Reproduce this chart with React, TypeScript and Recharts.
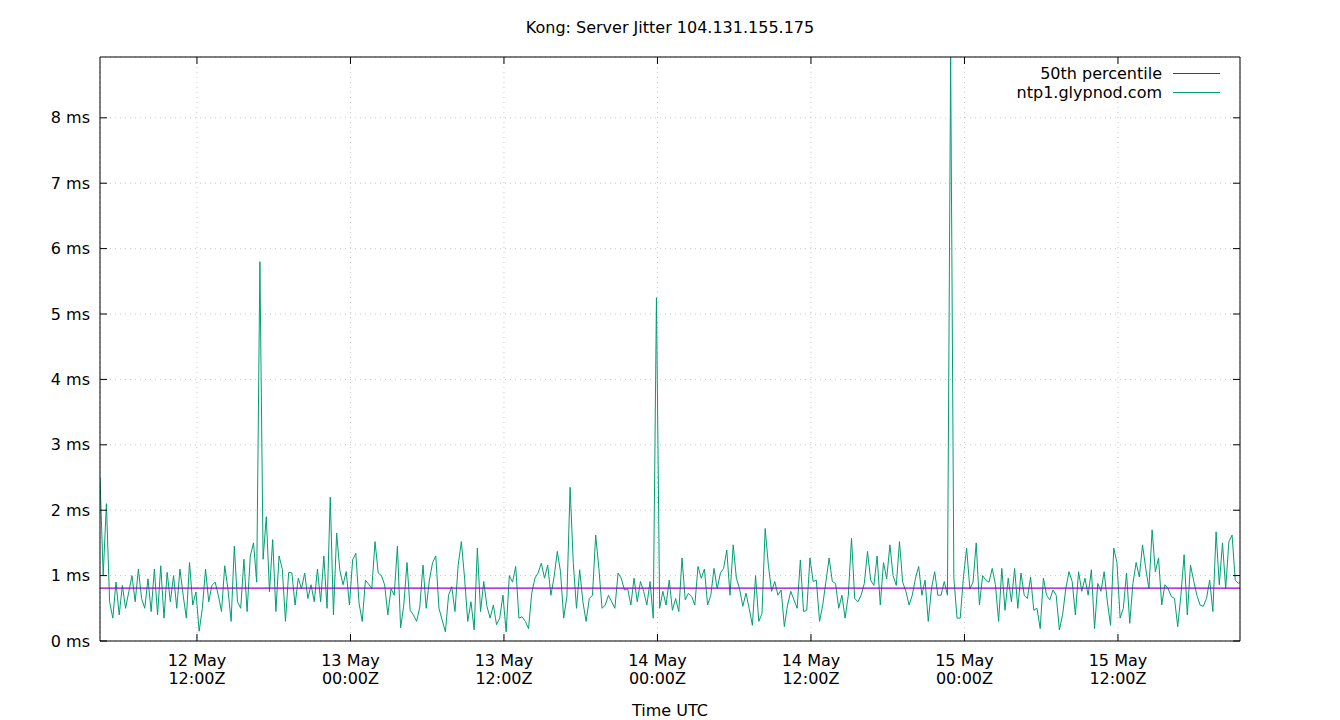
import { LineChart, Line, XAxis, YAxis, CartesianGrid } from 'recharts'

// hours since 12 May 00:00Z
const START_H = 4.42
const END_H = 93.54
const STEP_H = 0.25

const X_TICKS = [12, 24, 36, 48, 60, 72, 84]
const X_TICK_DAYS = ['12 May', '13 May', '13 May', '14 May', '14 May', '15 May', '15 May']
const X_TICK_TIMES = ['12:00Z', '00:00Z', '12:00Z', '00:00Z', '12:00Z', '00:00Z', '12:00Z']
const Y_TICKS = [0, 1, 2, 3, 4, 5, 6, 7, 8]
const Y_MAX = 8.93

const MEDIAN_MS = 0.81

// ntp1.glypnod.com jitter, ms, one sample every 15 min
const jitterMs = [
  2.5, 1.0, 2.1, 0.6, 0.35, 0.9, 0.4, 0.85, 0.5, 0.75,
  1.0, 0.6, 1.1, 0.65, 0.5, 0.95, 0.45, 1.1, 0.4, 1.15,
  0.35, 1.05, 0.6, 1.0, 0.5, 1.1, 0.7, 0.35, 1.2, 0.55,
  0.75, 0.15, 0.5, 1.1, 0.6, 0.85, 0.9, 0.7, 0.45, 1.15,
  0.8, 0.3, 1.45, 0.6, 0.5, 1.25, 0.45, 1.3, 1.5, 0.9,
  5.8, 1.25, 1.9, 0.75, 1.55, 0.45, 1.3, 1.1, 0.3, 1.05,
  1.04, 0.55, 0.96, 0.8, 1.04, 0.65, 0.86, 0.6, 1.1, 0.6,
  1.3, 0.5, 2.2, 0.4, 1.65, 1.08, 0.86, 1.06, 0.55, 1.24,
  1.34, 0.58, 0.3, 0.93, 0.87, 0.8, 1.52, 1.04, 1.0, 0.86,
  0.4, 0.8, 0.7, 1.45, 0.2, 0.55, 1.2, 0.47, 0.4, 0.3,
  0.52, 1.16, 0.5, 0.93, 1.2, 1.3, 0.5, 0.32, 0.14, 0.7,
  0.83, 0.45, 1.16, 1.52, 0.96, 0.3, 0.6, 0.17, 1.42, 0.45,
  0.91, 0.53, 0.35, 0.55, 0.25, 0.35, 0.7, 0.14, 1.0, 0.9,
  1.14, 0.35, 0.37, 0.3, 0.19, 0.73, 0.96, 1.04, 1.19, 0.96,
  1.16, 0.7, 0.98, 1.37, 1.06, 0.35, 0.68, 2.35, 1.19, 0.5,
  1.09, 0.6, 0.3, 0.65, 0.7, 1.62, 1.11, 0.5, 0.55, 0.7,
  0.6, 0.5, 1.04, 0.96, 0.78, 0.8, 0.55, 0.96, 0.6, 0.91,
  0.76, 0.55, 0.91, 0.35, 5.25, 0.5, 0.76, 0.55, 0.93,
  0.47, 0.65, 0.45, 1.27, 0.63, 0.73, 0.68, 0.55, 1.14, 0.96,
  1.1, 0.55, 0.7, 1.11, 0.8, 1.04, 1.11, 1.39, 0.7, 1.47,
  0.96, 0.8, 0.53, 0.73, 0.5, 0.24, 1.0, 0.3, 0.42, 1.72,
  1.16, 0.76, 0.91, 0.7, 0.78, 0.22, 0.55, 0.76, 0.63, 0.5,
  1.24, 0.45, 0.47, 1.27, 0.91, 0.93, 0.3, 0.55, 0.91, 1.27,
  0.91, 0.88, 0.5, 0.7, 0.35, 0.7, 1.57, 0.65, 0.6,
  0.7, 0.88, 1.37, 0.93, 0.85, 1.3, 0.55, 1.2, 0.95, 1.47,
  1.0, 0.85, 1.52, 0.9, 0.76, 0.55, 0.7, 0.96, 1.14, 0.7,
  0.93, 0.3, 0.8, 1.06, 0.7, 0.7, 0.91, 0.7, 8.93, 0.96,
  0.35, 0.35, 0.98, 1.42, 0.8, 0.9, 1.5, 0.55, 1.0, 0.93,
  0.9, 1.11, 0.86, 0.3, 1.11, 0.47, 0.96, 0.6, 1.11, 0.5,
  1.04, 0.7, 0.65, 0.98, 0.47, 0.5, 0.19, 0.96, 0.7,
  0.63, 0.78, 0.7, 0.17, 0.4, 0.8, 1.06, 0.91, 0.4, 1.06,
  0.76, 0.96, 0.7, 1.09, 0.19, 0.88, 0.76, 1.06, 0.6, 0.24,
  1.42, 1.2, 0.35, 0.5, 1.04, 0.27, 0.88, 1.2, 0.98, 1.47,
  1.11, 0.8, 1.7, 1.06, 1.27, 0.55, 0.86, 0.8, 0.68, 0.65,
  0.22, 0.7, 1.32, 0.4, 1.16, 0.92, 0.7, 0.55, 0.53, 0.65,
  0.93, 0.45, 1.67, 0.86, 1.5, 0.8, 1.52, 1.62, 0.93, 0.88,
  0.93,
]

const jitterData = jitterMs.map((v, i) => ({ t: START_H + i * STEP_H, ms: v }))
const medianData = [
  { t: START_H, ms: MEDIAN_MS },
  { t: END_H, ms: MEDIAN_MS },
]

const FONT = '"DejaVu Sans", sans-serif'
const GREEN = '#009e73'
const PURPLE = '#9400d3'
const TICK = 7

function LeftTick({ x, y, payload }: any) {
  return (
    <g>
      <line x1={x} x2={x + TICK} y1={y} y2={y} stroke="#000" />
      <text x={x - 10} y={y} dy={5.5} textAnchor="end" fontFamily={FONT} fontSize={16} fill="#000">
        {payload.value} ms
      </text>
    </g>
  )
}

function RightTick({ x, y }: any) {
  return <line x1={x - TICK} x2={x} y1={y} y2={y} stroke="#000" />
}

function BottomTick({ x, y, index }: any) {
  return (
    <g>
      <line x1={x} x2={x} y1={y} y2={y - TICK} stroke="#000" />
      <text x={x} y={y + 25} textAnchor="middle" fontFamily={FONT} fontSize={16} fill="#000">
        {X_TICK_DAYS[index]}
      </text>
      <text x={x} y={y + 43} textAnchor="middle" fontFamily={FONT} fontSize={16} fill="#000">
        {X_TICK_TIMES[index]}
      </text>
    </g>
  )
}

function TopTick({ x, y }: any) {
  return <line x1={x} x2={x} y1={y} y2={y + TICK} stroke="#000" />
}

// key box, top right inside the plot (gnuplot style)
function KeyBox() {
  const rows = [
    { name: '50th percentile', color: PURPLE },
    { name: 'ntp1.glypnod.com', color: GREEN },
  ]
  return (
    <div style={{ position: 'absolute', top: 64, right: 120, fontFamily: FONT, fontSize: 16, color: '#000' }}>
      {rows.map((r) => (
        <div key={r.name} style={{ display: 'flex', alignItems: 'center', justifyContent: 'flex-end', height: 19 }}>
          <span>{r.name}</span>
          <svg width={58} height={19} style={{ display: 'block' }}>
            <line x1={11} x2={58} y1={9.5} y2={9.5} stroke={r.color} strokeWidth={1} />
          </svg>
        </div>
      ))}
    </div>
  )
}

export default function App() {
  return (
    <div style={{ position: 'absolute', left: 0, top: 0, width: 1340, height: 720, background: '#fff' }}>
      <div
        style={{
          position: 'absolute',
          top: 18,
          left: 0,
          width: 1340,
          textAlign: 'center',
          fontFamily: FONT,
          fontSize: 16,
          lineHeight: '20px',
        }}
      >
        Kong: Server Jitter 104.131.155.175
      </div>
      <LineChart width={1340} height={720} margin={{ top: 56, right: 0, bottom: 0, left: 0 }}>
        <CartesianGrid stroke="#c8c8c8" strokeDasharray="1 4" />
        <XAxis
          dataKey="t"
          type="number"
          domain={[START_H, END_H]}
          ticks={X_TICKS}
          allowDataOverflow
          height={79}
          tickSize={0}
          tickMargin={0}
          tick={<BottomTick />}
          axisLine={{ stroke: '#000' }}
          label={{ value: 'Time UTC', position: 'insideBottom', offset: 4, fontFamily: FONT, fontSize: 16, fill: '#000' }}
        />
        <XAxis
          xAxisId="top"
          dataKey="t"
          type="number"
          orientation="top"
          domain={[START_H, END_H]}
          ticks={X_TICKS}
          allowDataOverflow
          height={1}
          tickSize={0}
          tickMargin={0}
          tick={<TopTick />}
          axisLine={{ stroke: '#000' }}
        />
        <YAxis
          type="number"
          domain={[0, Y_MAX]}
          ticks={Y_TICKS}
          allowDataOverflow
          width={100}
          tickSize={0}
          tickMargin={0}
          tick={<LeftTick />}
          axisLine={{ stroke: '#000' }}
        />
        <YAxis
          yAxisId="right"
          type="number"
          orientation="right"
          domain={[0, Y_MAX]}
          ticks={Y_TICKS}
          allowDataOverflow
          width={100}
          tickSize={0}
          tickMargin={0}
          tick={<RightTick />}
          axisLine={{ stroke: '#000' }}
        />
        <Line
          data={jitterData}
          dataKey="ms"
          name="ntp1.glypnod.com"
          stroke={GREEN}
          strokeWidth={1}
          dot={false}
          activeDot={false}
          isAnimationActive={false}
        />
        <Line
          data={medianData}
          dataKey="ms"
          name="50th percentile"
          stroke={PURPLE}
          strokeWidth={1.3}
          dot={false}
          activeDot={false}
          isAnimationActive={false}
        />
      </LineChart>
      <KeyBox />
    </div>
  )
}
